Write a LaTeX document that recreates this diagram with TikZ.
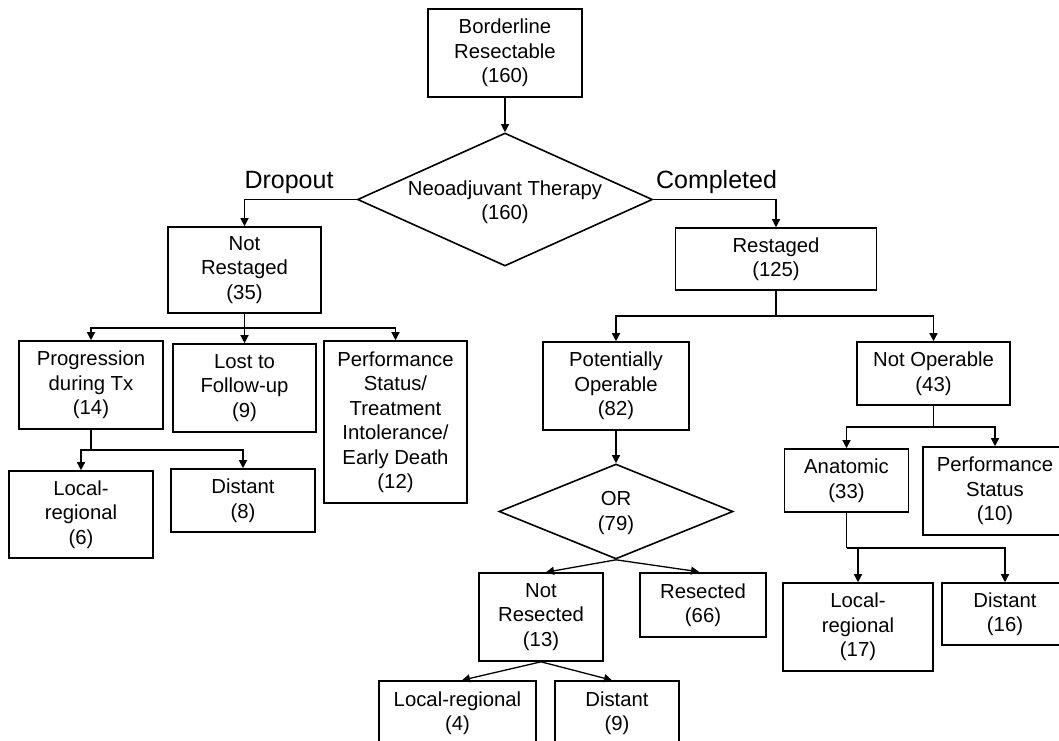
\documentclass[tikz,border=0pt]{standalone}
\usepackage{fontspec}
\setmainfont{Liberation Sans}
\usetikzlibrary{arrows.meta,shapes.geometric,calc}
\begin{document}
\begin{tikzpicture}[x=1pt,y=-1pt,
  every node/.style={font=\fontsize{20.3}{24.5}\selectfont, align=center, inner sep=0pt},
  box/.style={draw, rectangle, line width=1.6pt},
  dia/.style={draw, diamond, line width=1.6pt, inner sep=0pt},
  conn/.style={line width=1.3pt},
  arr/.style={conn, -{Triangle[length=8pt,width=8pt]}},
  lbl/.style={font=\fontsize{25}{30}\selectfont, anchor=base}]
\useasboundingbox (0,0) rectangle (1059,740);
\clip (0,0) rectangle (1059,740);
\fill[white] (0,0) rectangle (1059,740);

% top
\node[box, minimum width=154, minimum height=88] (br) at (505,53) {Borderline\\Resectable\\(160)};
\node[dia, minimum width=295, minimum height=133] (neo) at (505,199.5) {};
\node (neotxt) at (505,202) {Neoadjuvant Therapy\\(160)};
\node[lbl] (dropout) at (289,188) {Dropout};
\node[lbl] (completed) at (716.5,188) {Completed};

% left branch
\node[box, minimum width=153, minimum height=86] (nr) at (244.5,270) {Not\\Restaged\\(35)};
\node[box, minimum width=144, minimum height=88] (prog) at (91,385) {Progression\\during Tx\\(14)};
\node[box, minimum width=143, minimum height=88] (lost) at (244.5,388) {Lost to\\Follow-up\\(9)};
\node[box, minimum width=143, minimum height=162] (perf1) at (395.5,422) {Performance\\Status/\\Treatment\\Intolerance/\\Early Death\\(12)};
\node[box, minimum width=144, minimum height=87] (lr6) at (81,514.5) {Local-\\regional\\(6)};
\node[box, minimum width=144, minimum height=63] (dist8) at (243,500.5) {Distant\\(8)};

% right branch
\node[box, minimum width=201, minimum height=62] (rs) at (776,259) {Restaged\\(125)};
\node[box, minimum width=146, minimum height=88] (po) at (616,386) {Potentially\\Operable\\(82)};
\node[box, minimum width=153, minimum height=63] (no) at (933.5,373.5) {Not Operable\\(43)};
\node[dia, minimum width=234, minimum height=95] (or) at (616,511.5) {};
\node (ortxt) at (616,513) {OR\\(79)};
\node[box, minimum width=124, minimum height=88] (nres) at (541,617) {Not\\Resected\\(13)};
\node[box, line width=2.4pt, minimum width=126, minimum height=64] (res) at (703,605) {Resected\\(66)};
\node[box, minimum width=157, minimum height=64] (ll4) at (457.5,713) {Local-regional\\(4)};
\node[box, minimum width=124, minimum height=64] (d9) at (617,713) {Distant\\(9)};
\node[box, minimum width=124, minimum height=63] (ana) at (846.5,480.5) {Anatomic\\(33)};
\node[box, minimum width=144, minimum height=88] (ps10) at (995,491) {Performance\\Status\\(10)};
\node[box, minimum width=150, minimum height=88] (lr17) at (858,627) {Local-\\regional\\(17)};
\node[box, minimum width=126, minimum height=62] (d16) at (1005,614) {Distant\\(16)};

% connectors
\draw[arr] (br) -- (neo);
\draw[arr] (neo.west) -| (nr.north);
\draw[arr] (neo.east) -| (rs.north);

\coordinate (nrj) at (244.5,328);
\draw[conn] (nr.south) -- (nrj);
\draw[arr] (nrj) -| (prog.north);
\draw[arr] (nrj) -- (lost.north);
\draw[arr] (nrj) -| (perf1.north);

\coordinate (pj) at (91,450);
\draw[conn] (prog.south) -- (pj);
\draw[arr] (pj) -| (lr6.north);
\draw[arr] (pj) -| (dist8.north);

\coordinate (rj) at (776,316);
\draw[conn] (rs.south) -- (rj);
\draw[arr] (rj) -| (po.north);
\draw[arr] (rj) -| (no.north);

\draw[arr] (po) -- (or);
\draw[arr] (or.south) -- ($(nres.north)+(5,0)$);
\draw[arr] (or.south) -- ($(res.north)+(-4,0)$);
\draw[arr] (nres.south) -- ($(ll4.north)+(4.5,0)$);
\draw[arr] (nres.south) -- ($(d9.north)+(-5,0)$);

\coordinate (noj) at (933.5,427);
\draw[conn] (no.south) -- (noj);
\draw[arr] (noj) -| (ana.north);
\draw[arr] (noj) -| (ps10.north);

\coordinate (aj) at (846.5,548);
\draw[conn] (ana.south) -- (aj);
\draw[arr] (aj) -| (lr17.north);
\draw[arr] (aj) -| (d16.north);
\end{tikzpicture}
\end{document}
